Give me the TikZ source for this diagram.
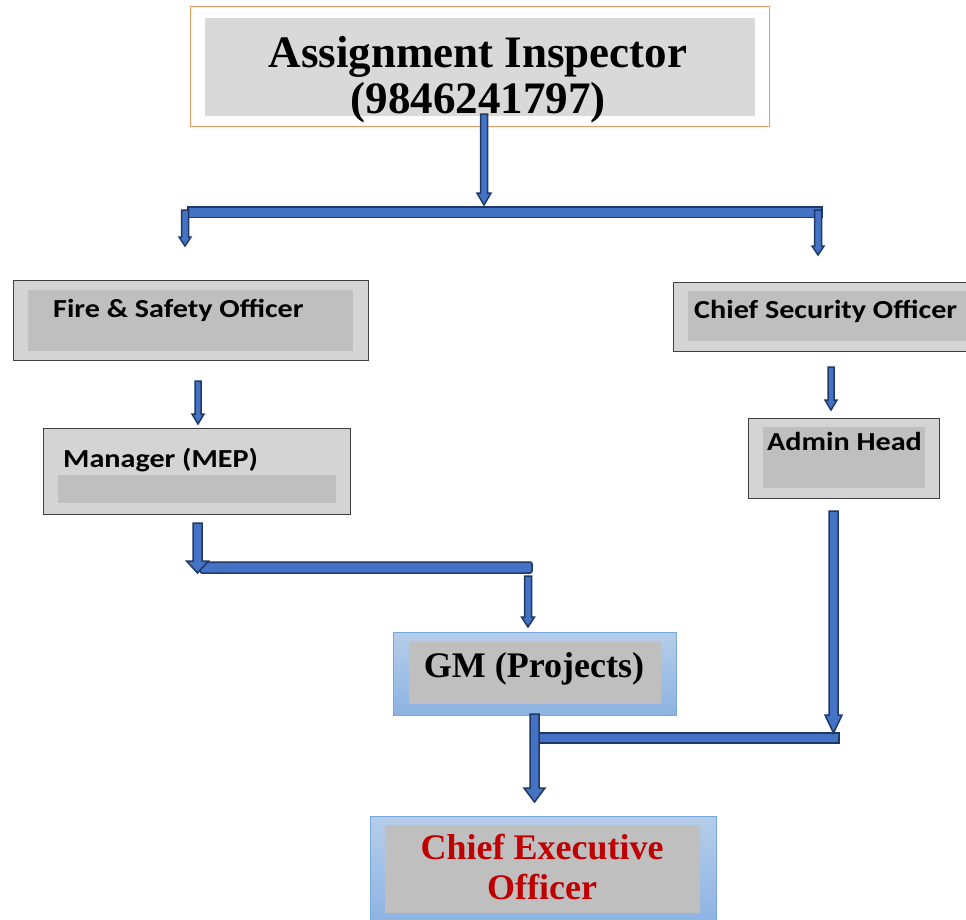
\documentclass[tikz,border=0pt]{standalone}
\usepackage{fontspec}
\setmainfont{Liberation Serif}
\newfontfamily\calibri{Carlito}[FakeStretch=1.16]
\usetikzlibrary{calc}

\definecolor{arrowfill}{HTML}{4472C4}
\definecolor{arrowline}{HTML}{1F3864}
\definecolor{panelgray}{HTML}{BFBFBF}
\definecolor{boxgray}{HTML}{D4D4D4}
\definecolor{toppanel}{HTML}{D9D9D9}
\definecolor{topline}{HTML}{EE9A5E}
\definecolor{bluetop}{HTML}{B6CDE9}
\definecolor{bluebot}{HTML}{8DB3E2}
\definecolor{blueline}{HTML}{7AA7DA}
\definecolor{ceored}{HTML}{C00000}

% block arrow pointing down: from, to, half shaft, half head, head length
\newcommand{\blockarrow}[5]{%
  \filldraw[blk] let \p1=(#1), \p2=(#2) in
    (\x1-#3pt,\y1) -- (\x1-#3pt,\y2+#5pt) -- (\x1-#4pt,\y2+#5pt) -- (\x1,\y2)
    -- (\x1+#4pt,\y2+#5pt) -- (\x1+#3pt,\y2+#5pt) -- (\x1+#3pt,\y1) -- cycle;}

\begin{document}
\begin{tikzpicture}[
  x=1pt,y=-1pt,
  graybox/.style={draw=black!75,line width=0.8pt,fill=boxgray,inner sep=0pt},
  bluebox/.style={draw=blueline,line width=1pt,top color=bluetop,bottom color=bluebot,inner sep=0pt},
  panel/.style={fill=panelgray,inner sep=0pt},
  sanslbl/.style={font=\calibri\bfseries\fontsize{26}{30}\selectfont,inner sep=0pt},
  seriflbl/.style={font=\bfseries\fontsize{36}{40}\selectfont,inner sep=0pt,align=center},
  blk/.style={draw=arrowline,fill=arrowfill,line width=1.5pt,line join=miter}
]
\useasboundingbox (0,0) rectangle (966,919);

% top box
\node[draw=topline,line width=0.9pt,minimum width=579pt,minimum height=120pt,inner sep=0pt] (insp) at (479.5,66) {};
\node[fill=toppanel,minimum width=550pt,minimum height=98pt,inner sep=0pt] (inspp) at (480,67) {};
\node[seriflbl,font=\bfseries\fontsize{45}{45.5}\selectfont,anchor=north] (inspl) at (478,36.5)
  {Assignment Inspector\\(9846241797)};

% left branch
\node[graybox,minimum width=355pt,minimum height=80pt] (fso) at (190.5,320) {};
\node[panel,minimum width=325pt,minimum height=61pt] (fsop) at (190.5,320.5) {};
\node[sanslbl,anchor=base west] (fsol) at (53,317) {Fire \& Safety Officer};

\node[graybox,minimum width=307pt,minimum height=86pt] (mep) at (196.5,471) {};
\node[panel,minimum width=278pt,minimum height=28pt] (mepp) at (197,489) {};
\node[sanslbl,anchor=base west] (mepl) at (63,467) {Manager (MEP)};

% right branch
\node[graybox,minimum width=295pt,minimum height=69pt] (cso) at (820.5,316.5) {};
\node[panel,minimum width=280pt,minimum height=50pt] (csop) at (828,316) {};
\node[sanslbl,anchor=base west] (csol) at (694,318) {Chief Security Officer};

\node[graybox,minimum width=191pt,minimum height=80pt] (adm) at (843.5,458) {};
\node[panel,minimum width=162pt,minimum height=61pt] (admp) at (844,457.5) {};
\node[sanslbl,anchor=base west] (adml) at (767,450) {Admin Head};

% lower boxes
\node[bluebox,minimum width=283pt,minimum height=83pt] (gm) at (534.5,673.5) {};
\node[panel,minimum width=252pt,minimum height=62pt] (gmp) at (535,673) {};
\node[seriflbl,anchor=base] (gml) at (534,677) {GM (Projects)};

\node[bluebox,minimum width=346pt,minimum height=109pt] (ceo) at (543,870.5) {};
\node[panel,minimum width=315pt,minimum height=88pt] (ceop) at (542.5,869) {};
\node[seriflbl,text=ceored,anchor=north] (ceol) at (542,833.6) {Chief Executive\\Officer};

% connector points
\coordinate (a0) at (484,114);  \coordinate (a1) at (484,205);
\coordinate (b0) at (188,207);  \coordinate (b1) at (822,217.5);
\coordinate (l0) at (185,210);  \coordinate (l1) at (185,246);
\coordinate (r0) at (818,210);  \coordinate (r1) at (818,255);
\coordinate (f0) at (198,381);  \coordinate (f1) at (198,424);
\coordinate (s0) at (831,367);  \coordinate (s1) at (831,410);
\coordinate (m0) at (197.5,523);\coordinate (m1) at (197.5,573);
\coordinate (c0) at (200,562);  \coordinate (c1) at (532,573);
\coordinate (g0) at (528,576);  \coordinate (g1) at (528,627);
\coordinate (h0) at (833.5,511);\coordinate (h1) at (833.5,733);
\coordinate (d0) at (539,733);  \coordinate (d1) at (839,743);
\coordinate (e0) at (534.5,714);\coordinate (e1) at (534.5,802);

% arrows
\blockarrow{a0}{a1}{3.5}{7}{12}
\filldraw[blk] (b0) rectangle (b1);
\blockarrow{l0}{l1}{3.5}{6}{9}
\blockarrow{r0}{r1}{3.5}{6}{9}
\blockarrow{f0}{f1}{3}{6}{10}
\blockarrow{s0}{s1}{3}{6}{10}
\filldraw[blk,rounded corners=2pt] (c0) rectangle (c1);
\blockarrow{m0}{m1}{4.5}{11}{12}
\blockarrow{g0}{g1}{3.5}{6.5}{10}
\filldraw[blk] (d0) rectangle (d1);
\blockarrow{h0}{h1}{4.5}{8.5}{18}
\blockarrow{e0}{e1}{4.5}{10.5}{14}
\end{tikzpicture}
\end{document}
